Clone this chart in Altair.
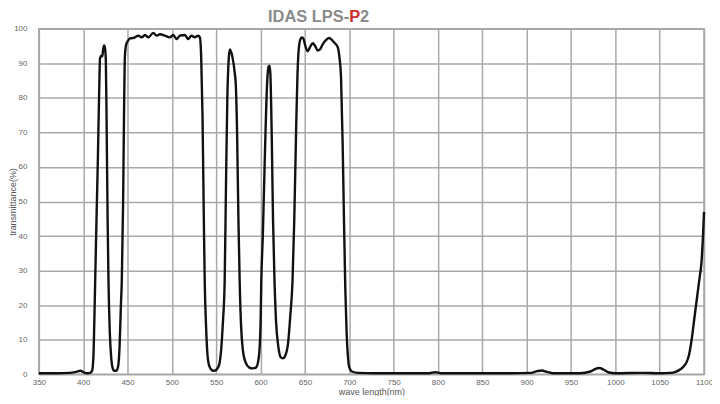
import altair as alt
import pandas as pd

wavelength = [
    350, 370, 385, 392, 397, 401, 405, 408, 410, 411.5, 412.5, 413.5, 415, 416.5, 418,
    419, 420.5, 421.5, 422.5, 423.5, 424.5, 425.5, 426.5, 427.5, 428.5, 430, 431.5, 433,
    435, 437.5, 439.5, 441, 442.5, 443.5, 445, 446, 447, 448.5, 450, 452.8, 455.5, 458.4,
    462, 466, 469.7, 473.4, 479, 482.8, 486.5, 492, 497.7, 501.5, 505.3, 509, 514.6, 518.3,
    522, 525.8, 529.6, 531.5, 533, 534.5, 536, 537, 538.5, 540, 542, 545, 547.5, 550, 553,
    555.5, 557.5, 559.5, 561, 562.5, 564, 565.2, 566.5, 568.5, 570.5, 572, 573.5, 575,
    576.4, 578, 580, 583, 587, 591, 595, 598, 600, 600.8, 602.5, 605, 607.5, 609, 610,
    611, 612.5, 614, 615.7, 617.5, 620, 622.5, 625, 628, 631, 633.5, 636, 638, 640, 641.5,
    643, 645, 646.8, 648.5, 650.5, 653, 656, 658.8, 661.5, 664.4, 667, 670, 674, 677,
    679.4, 683, 686.9, 689, 690.7, 692.5, 694, 695.5, 697, 698.5, 700, 703, 710, 730, 760,
    790, 797, 803, 850, 880, 905, 912, 917, 923, 930, 960, 972, 977, 982, 987, 993, 1000,
    1030, 1050, 1062, 1068, 1072, 1076, 1080, 1083, 1086, 1089, 1092, 1095, 1097, 1099, 1100,
]
transmittance = [
    0.3, 0.3, 0.4, 0.7, 1.0, 0.5, 0.3, 0.4, 1.0, 5, 15, 27, 45, 62, 82,
    91.5, 92.2, 92, 94, 95.2, 94.5, 91, 70, 45, 27, 12, 5, 2,
    1, 1, 2.5, 8, 20, 27, 50, 75, 92, 95.5, 96.3, 97.2, 97.3, 97.5,
    98, 97.5, 98.2, 97.5, 98.8, 98, 98.4, 98, 97.5, 98.2, 97, 98, 98.2, 97,
    98, 97.5, 98, 97.5, 92, 75, 45, 27, 14, 6, 2.5, 1.2, 1, 1.3, 2.5,
    7, 15, 27, 55, 80, 91, 94, 93.5, 91.5, 88, 84, 70, 45,
    27, 14, 7, 3.5, 2, 1.7, 2, 5, 15, 27, 40, 65, 85, 89, 89.3,
    87, 70, 45, 27, 15, 8, 5, 4.6, 5.5, 9, 17, 27, 45, 70, 86,
    94, 97, 97.5, 97, 95, 93.5, 94.8, 95.8, 95, 93.7, 94, 95.5, 96.8, 97.3,
    97, 96, 94.7, 91.5, 86, 67, 45, 25, 12, 5, 2, 0.8, 0.4, 0.3, 0.3,
    0.3, 0.6, 0.3, 0.3, 0.3, 0.4, 0.9, 1.1, 0.7, 0.3, 0.3, 0.8, 1.5, 1.8, 1.3, 0.5, 0.3,
    0.4, 0.3, 0.4, 0.7, 1.2, 2, 3.3, 5.5, 10, 16, 22, 28, 32, 41, 47,
]

x_ticks = list(range(350, 1101, 50))
y_ticks = list(range(0, 101, 10))

title_parts = ["IDAS LPS-", "P", "2"]
title_colors = ["#8a8a8a", "#d22b2b", "#8a8a8a"]

df = pd.DataFrame({"wl": wavelength, "t": transmittance})

line = alt.Chart(df).mark_line(
    color="#111111", strokeWidth=2.4, interpolate="monotone"
).encode(
    x=alt.X("wl:Q",
            scale=alt.Scale(domain=[350, 1100], nice=False, zero=False),
            axis=alt.Axis(values=x_ticks, format="d", title="wave length(nm)", grid=True,
                          ticks=False, domain=False, labelFontSize=8,
                          labelColor="#666666", labelPadding=4,
                          labelFont="Liberation Sans", titleFont="Liberation Sans",
                          titleFontSize=9, titleFontWeight="normal",
                          titleColor="#555555", titleY=17, titleBaseline="middle",
                          labelFlush=False)),
    y=alt.Y("t:Q",
            scale=alt.Scale(domain=[0, 100], nice=False),
            axis=alt.Axis(values=y_ticks, format="d", title="transmittance(%)", grid=True,
                          ticks=False, domain=False, labelFontSize=8,
                          labelColor="#666666", labelPadding=12,
                          labelFont="Liberation Sans", titleFont="Liberation Sans",
                          titleFontSize=9, titleFontWeight="normal",
                          titleColor="#555555", titleX=-26, titleY=173.5,
                          titleAngle=270, titleBaseline="middle", titleAlign="center")),
)

t1 = alt.Chart(pd.DataFrame({"s": [title_parts[0]]})).mark_text(
    align="right", baseline="alphabetic", fontSize=16.5, fontWeight="bold",
    font="Liberation Sans", color=title_colors[0]
).encode(x=alt.value(311.6), y=alt.value(-6.3), text="s:N")
t2 = alt.Chart(pd.DataFrame({"s": [title_parts[1]]})).mark_text(
    align="left", baseline="alphabetic", fontSize=16.5, fontWeight="bold",
    font="Liberation Sans", color=title_colors[1]
).encode(x=alt.value(311.6), y=alt.value(-6.3), text="s:N")
t3 = alt.Chart(pd.DataFrame({"s": [title_parts[2]]})).mark_text(
    align="left", baseline="alphabetic", fontSize=16.5, fontWeight="bold",
    font="Liberation Sans", color=title_colors[2]
).encode(x=alt.value(322.6), y=alt.value(-6.3), text="s:N")

chart = alt.layer(line, t1, t2, t3).properties(
    width=668, height=347,
    autosize=alt.AutoSizeParams(type="none"),
    padding={"left": 31, "top": 20, "right": 8, "bottom": 21},
    background="white",
).configure_view(
    stroke="#a0a0a0", strokeWidth=1.5
).configure_axis(
    gridColor="#a8a8a8", gridWidth=1.5, gridOpacity=1
)

chart.save("out.html", embed_options={"renderer": "svg", "actions": False})
